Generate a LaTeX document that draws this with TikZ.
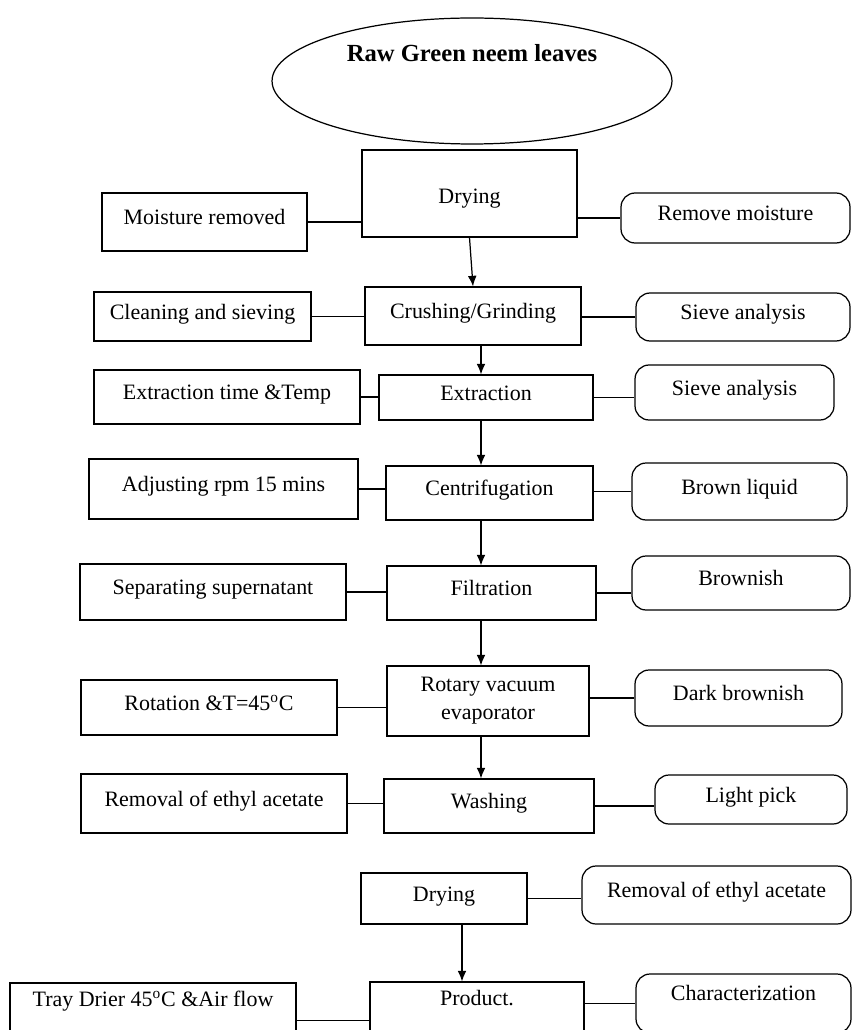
\documentclass[tikz,border=0pt]{standalone}
\usepackage{fontspec}
\setmainfont{Liberation Serif}
\usepackage{tikz}
\usetikzlibrary{shapes.geometric,arrows.meta}

\tikzset{
	stage/.style={draw, rectangle, line width=0.7pt, font=\fontsize{12.5}{16}\selectfont, text height=9pt, text depth=6pt, inner sep=2pt},
	result/.style={stage, rounded corners=8pt},
	cut/.style={minimum height=1.5cm, inner ysep=0pt, text depth=25pt}
}

\begin{document}
\begin{tikzpicture}[x=0.02cm, y=-0.02cm, >={Latex[length=6pt,width=5pt]}, line width=0.7pt]
				\useasboundingbox (0,0) rectangle (852,1030);
				\clip (0,0) rectangle (852,1030);
				
				\node (leaves) [draw, ellipse, line width=0.7pt, minimum width=8.0cm, minimum height=2.52cm, font=\fontsize{14}{16}\bfseries, text height=10pt, text depth=32pt, inner sep=0pt] at (472,81) {Raw Green neem leaves};
				
				\node (drying) [stage, minimum width=4.30cm, minimum height=1.74cm, text height=12pt, text depth=1pt] at (469.5,193.5) {Drying};
				\node (moist) [stage, minimum width=4.10cm, minimum height=1.16cm] at (204.5,222) {Moisture removed};
				\node (remmoist) [result, minimum width=4.58cm, minimum height=1.00cm] at (735.5,218) {Remove moisture};
				
				\node (crushing) [stage, minimum width=4.32cm, minimum height=1.16cm] at (473,316) {Crushing/Grinding};
				\node (cleaning) [stage, minimum width=4.34cm, minimum height=0.98cm] at (202.5,316.5) {Cleaning and sieving};
				\node (sieveA) [result, minimum width=4.28cm, minimum height=0.96cm] at (743,317) {Sieve analysis};
				
				\node (extraction) [stage, minimum width=4.28cm, minimum height=0.90cm] at (486,397.5) {Extraction};
				\node (extime) [stage, minimum width=5.32cm, minimum height=1.08cm] at (227,397) {Extraction time \&Temp};
				\node (sieveB) [result, minimum width=3.98cm, minimum height=1.10cm] at (734.5,392.5) {Sieve analysis};
				
				\node (centrif) [stage, minimum width=4.14cm, minimum height=1.08cm] at (489.5,493) {Centrifugation};
				\node (adjust) [stage, minimum width=5.38cm, minimum height=1.20cm] at (223.5,489) {Adjusting rpm 15 mins};
				\node (brownliq) [result, minimum width=4.30cm, minimum height=1.14cm] at (739.5,491.5) {Brown liquid};
				
				\node (filtration) [stage, minimum width=4.18cm, minimum height=1.08cm] at (491.5,593) {Filtration};
				\node (separating) [stage, minimum width=5.32cm, minimum height=1.12cm] at (213,592) {Separating supernatant};
				\node (brownish) [result, minimum width=4.36cm, minimum height=1.08cm] at (741,583) {Brownish};
				
				\node (rotary) [stage, align=center, text height=, text depth=, minimum width=4.04cm, minimum height=1.40cm] at (488,701) {Rotary vacuum\\evaporator};
				\node (rotation) [stage, minimum width=5.12cm, minimum height=1.10cm] at (209,707.5) {Rotation \&T=45\textsuperscript{o}C};
				\node (dark) [result, minimum width=4.14cm, minimum height=1.12cm] at (738.5,698) {Dark brownish};
				
				\node (washing) [stage, minimum width=4.20cm, minimum height=1.08cm] at (489,806) {Washing};
				\node (removalA) [stage, minimum width=5.32cm, minimum height=1.18cm] at (214,803.5) {Removal of ethyl acetate};
				\node (light) [result, minimum width=3.84cm, minimum height=0.98cm] at (751,799.5) {Light pick};
				
				\node (drying2) [stage, minimum width=3.32cm, minimum height=1.02cm] at (444,898.5) {Drying};
				\node (removalB) [result, minimum width=5.38cm, minimum height=1.16cm] at (716.5,895) {Removal of ethyl acetate};
				
				\node (product) [stage, cut, minimum width=4.28cm] at (477,1019.5) {Product.};
				\node (tray) [stage, cut, minimum width=5.72cm] at (153,1020.5) {Tray Drier 45\textsuperscript{o}C \&Air flow};
				\node (charact) [result, minimum width=4.30cm, minimum height=1.18cm, text depth=12pt] at (743.5,1003.5) {Characterization};
				
				\coordinate (spine) at (481,0);
				\coordinate (spine2) at (462,0);
				
				% Arrows
				\draw[->] (drying.south) -- (crushing.north);
				\draw[->] (crushing.south -| spine) -- (extraction.north -| spine);
				\draw[->] (extraction.south -| spine) -- (centrif.north -| spine);
				\draw[->] (centrif.south -| spine) -- (filtration.north -| spine);
				\draw[->] (filtration.south -| spine) -- (rotary.north -| spine);
				\draw[->] (rotary.south -| spine) -- (washing.north -| spine);
				\draw[->] (drying2.south -| spine2) -- (product.north -| spine2);
				
				% Side links
				\draw (moist.east) -- (moist.east -| drying.west);
				\draw (remmoist.west -| drying.east) -- (remmoist.west);
				\draw (cleaning.east) -- (cleaning.east -| crushing.west);
				\draw (sieveA.west -| crushing.east) -- (sieveA.west);
				\draw (extime.east) -- (extime.east -| extraction.west);
				\draw (extraction.east) -- (extraction.east -| sieveB.west);
				\draw (adjust.east) -- (adjust.east -| centrif.west);
				\draw (brownliq.west -| centrif.east) -- (brownliq.west);
				\draw (separating.east) -- (separating.east -| filtration.west);
				\draw (filtration.east) -- (filtration.east -| brownish.west);
				\draw (rotation.east) -- (rotation.east -| rotary.west);
				\draw (dark.west -| rotary.east) -- (dark.west);
				\draw (removalA.east) -- (removalA.east -| washing.west);
				\draw (washing.east) -- (washing.east -| light.west);
				\draw (drying2.east) -- (drying2.east -| removalB.west);
				\draw (tray.east) -- (tray.east -| product.west);
				\draw (charact.west -| product.east) -- (charact.west);
				
			\end{tikzpicture}
\end{document}
